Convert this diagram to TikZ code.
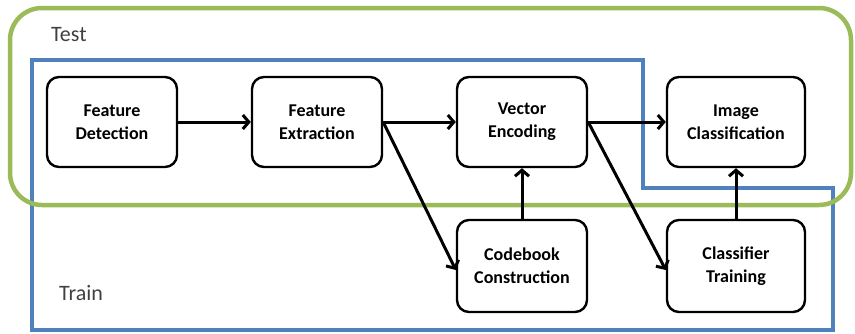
\documentclass[tikz,border=0pt]{standalone}
\usepackage{fontspec}
\setmainfont{Carlito}
\usetikzlibrary{arrows.meta}
\definecolor{testgreen}{HTML}{9BBB59}
\definecolor{trainblue}{HTML}{4F81BD}
\definecolor{labelgray}{HTML}{404040}
\begin{document}
\begin{tikzpicture}[x=1pt,y=-1pt,
  stepbox/.style={draw=black, line width=2.4pt, rounded corners=12pt, fill=white,
    minimum width=130pt, minimum height=90pt, align=center,
    font=\fontsize{18}{23}\selectfont\bfseries, inner sep=0pt},
  flow/.style={line width=3pt, -{Straight Barb[length=6pt,width=14pt,line width=3pt]}},
  grouplabel/.style={font=\fontsize{22}{26}\selectfont, text=labelgray, anchor=west, inner sep=0pt}
]
\useasboundingbox (0,0) rectangle (855,333);
% Train region (blue)
\draw[trainblue, line width=4pt] (32,60) -- (643,60) -- (643,188) -- (833,188) -- (833,330) -- (32,330) -- cycle;
% Test region (green)
\draw[testgreen, line width=4.5pt, rounded corners=32pt] (10,8) rectangle (851,205);
\node[grouplabel] (testlbl) at (51,35) {Test};
\node[grouplabel] (trainlbl) at (59,293) {Train};
% boxes
\node[stepbox] (fd) at (112,122) {Feature\\Detection};
\node[stepbox] (fe) at (317,122) {Feature\\Extraction};
\node[stepbox] (ve) at (522,122) {Vector\\Encoding};
\node[stepbox, minimum width=138pt] (ic) at (736,122) {Image\\Classification};
\node[stepbox, minimum height=92pt] (cc) at (522,266) {Codebook\\Construction};
\node[stepbox, minimum width=138pt, minimum height=92pt] (ct) at (736,266) {Classifier\\Training};
% connectors
\draw[flow] (fd.east) -- (fe.west);
\draw[flow] (fe.east) -- (ve.west);
\draw[flow] (ve.east) -- (ic.west);
\draw[flow] (fe.east) -- ([yshift=-4pt]cc.west);
\draw[flow] (ve.east) -- ([yshift=-4pt]ct.west);
\draw[flow] (cc.north) -- (ve.south);
\draw[flow] (ct.north) -- (ic.south);
\end{tikzpicture}
\end{document}
